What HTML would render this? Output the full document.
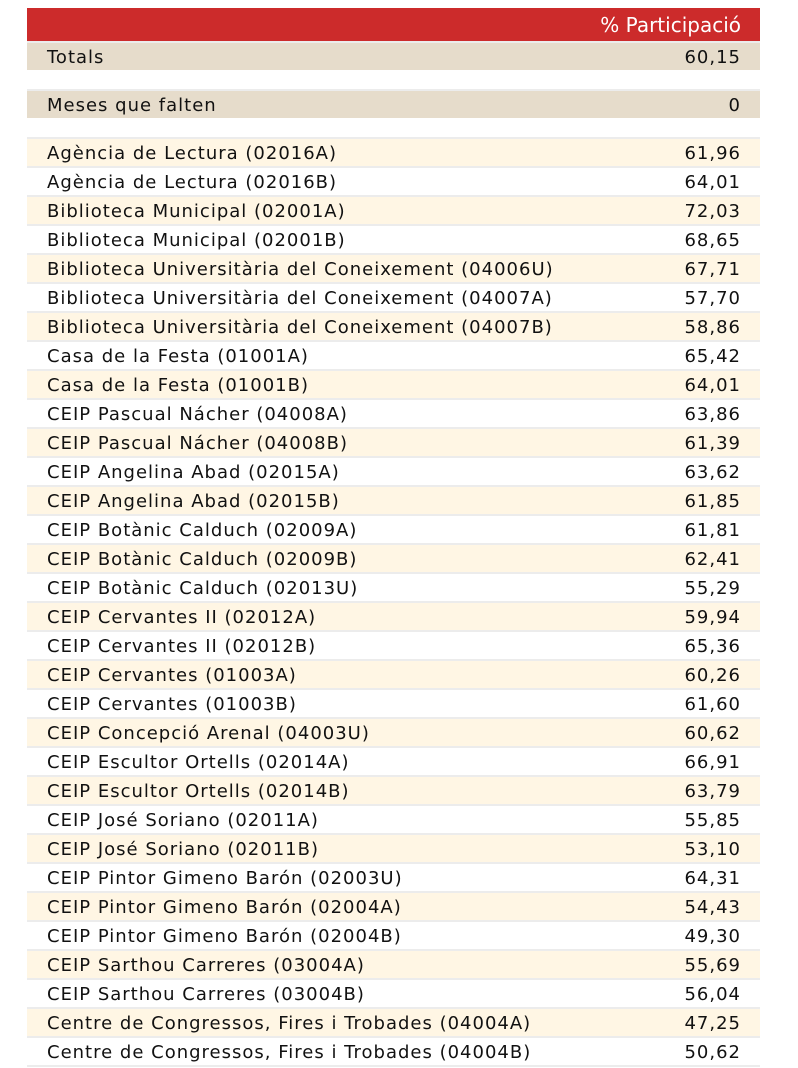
<!DOCTYPE html>
<html><head><meta charset="utf-8"><style>
body{margin:0;background:#fff;font-family:"DejaVu Sans","Liberation Sans",sans-serif;font-size:18px;color:#111;}
.t{position:absolute;left:27px;top:8px;width:733px;}
.r{height:27px;border-top:2px solid #ececec;display:flex;justify-content:space-between;align-items:center;padding:0 20px;box-sizing:content-box;line-height:27px;letter-spacing:1px;}
.r span{position:relative;top:1px;}
.r span:last-child{margin-right:-1px;}
.h{background:#cc2b2b;color:#fff;height:33px;border:none;justify-content:flex-end;line-height:33px;font-size:20px;letter-spacing:0;}
.tan{background:#e6dccb;}
.c{background:#fff6e4;}
.gap{height:19px;}
</style></head><body>
<div class="t">
<div class="r h"><span>% Participació</span></div>
<div class="r tan"><span>Totals</span><span>60,15</span></div>
<div class="gap"></div>
<div class="r tan"><span>Meses que falten</span><span>0</span></div>
<div class="gap"></div>
<div class="r c"><span>Agència de Lectura (02016A)</span><span>61,96</span></div>
<div class="r"><span>Agència de Lectura (02016B)</span><span>64,01</span></div>
<div class="r c"><span>Biblioteca Municipal (02001A)</span><span>72,03</span></div>
<div class="r"><span>Biblioteca Municipal (02001B)</span><span>68,65</span></div>
<div class="r c"><span>Biblioteca Universitària del Coneixement (04006U)</span><span>67,71</span></div>
<div class="r"><span>Biblioteca Universitària del Coneixement (04007A)</span><span>57,70</span></div>
<div class="r c"><span>Biblioteca Universitària del Coneixement (04007B)</span><span>58,86</span></div>
<div class="r"><span>Casa de la Festa (01001A)</span><span>65,42</span></div>
<div class="r c"><span>Casa de la Festa (01001B)</span><span>64,01</span></div>
<div class="r"><span>CEIP Pascual Nácher (04008A)</span><span>63,86</span></div>
<div class="r c"><span>CEIP Pascual Nácher (04008B)</span><span>61,39</span></div>
<div class="r"><span>CEIP Angelina Abad (02015A)</span><span>63,62</span></div>
<div class="r c"><span>CEIP Angelina Abad (02015B)</span><span>61,85</span></div>
<div class="r"><span>CEIP Botànic Calduch (02009A)</span><span>61,81</span></div>
<div class="r c"><span>CEIP Botànic Calduch (02009B)</span><span>62,41</span></div>
<div class="r"><span>CEIP Botànic Calduch (02013U)</span><span>55,29</span></div>
<div class="r c"><span>CEIP Cervantes II (02012A)</span><span>59,94</span></div>
<div class="r"><span>CEIP Cervantes II (02012B)</span><span>65,36</span></div>
<div class="r c"><span>CEIP Cervantes (01003A)</span><span>60,26</span></div>
<div class="r"><span>CEIP Cervantes (01003B)</span><span>61,60</span></div>
<div class="r c"><span>CEIP Concepció Arenal (04003U)</span><span>60,62</span></div>
<div class="r"><span>CEIP Escultor Ortells (02014A)</span><span>66,91</span></div>
<div class="r c"><span>CEIP Escultor Ortells (02014B)</span><span>63,79</span></div>
<div class="r"><span>CEIP José Soriano (02011A)</span><span>55,85</span></div>
<div class="r c"><span>CEIP José Soriano (02011B)</span><span>53,10</span></div>
<div class="r"><span>CEIP Pintor Gimeno Barón (02003U)</span><span>64,31</span></div>
<div class="r c"><span>CEIP Pintor Gimeno Barón (02004A)</span><span>54,43</span></div>
<div class="r"><span>CEIP Pintor Gimeno Barón (02004B)</span><span>49,30</span></div>
<div class="r c"><span>CEIP Sarthou Carreres (03004A)</span><span>55,69</span></div>
<div class="r"><span>CEIP Sarthou Carreres (03004B)</span><span>56,04</span></div>
<div class="r c"><span>Centre de Congressos, Fires i Trobades (04004A)</span><span>47,25</span></div>
<div class="r"><span>Centre de Congressos, Fires i Trobades (04004B)</span><span>50,62</span></div>
<div style="border-top:2px solid #ececec"></div>
</div>
</body></html>
